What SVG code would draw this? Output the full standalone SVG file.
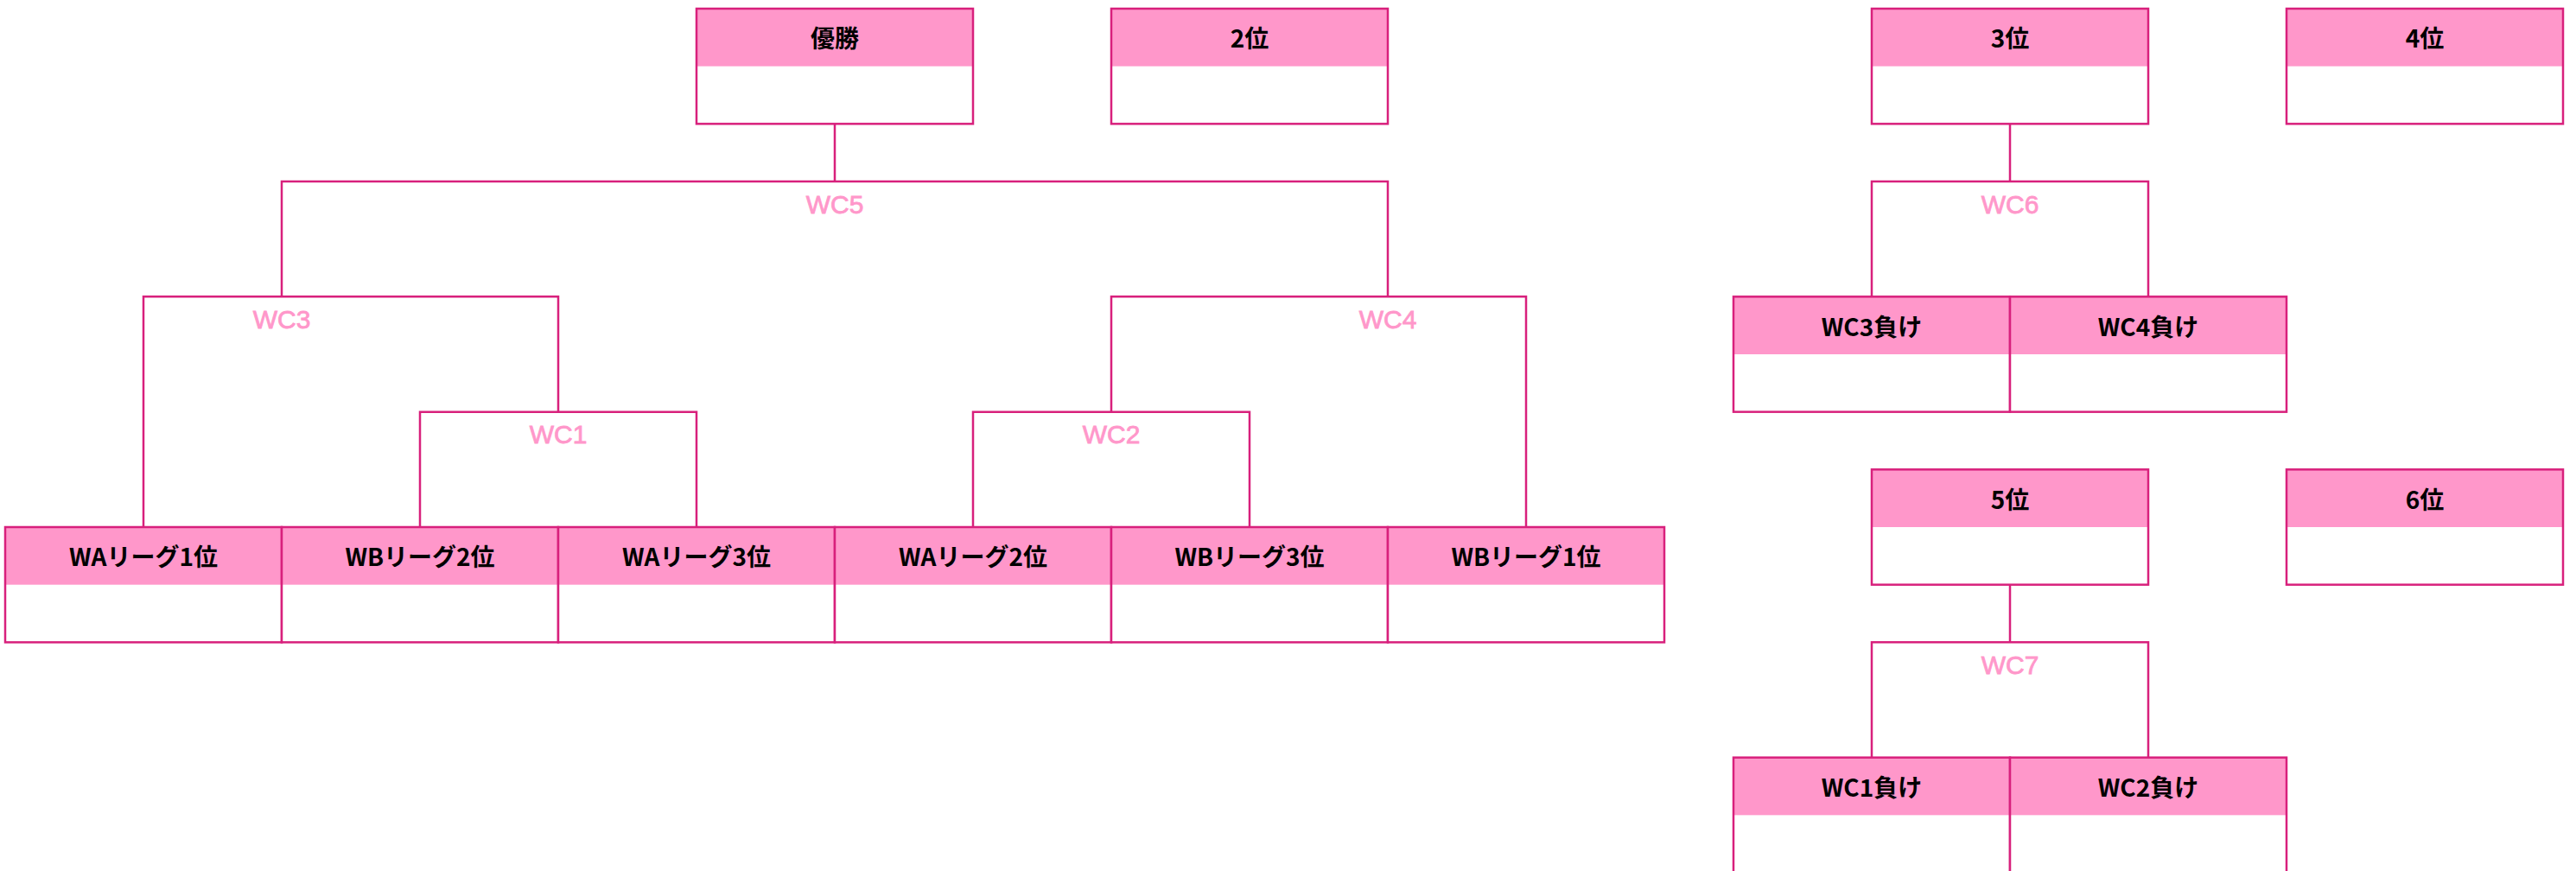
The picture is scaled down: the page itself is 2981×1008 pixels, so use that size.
<svg xmlns="http://www.w3.org/2000/svg" width="2981" height="1008" viewBox="0 0 2981 1008">
<style>
.hd{fill:#ff97ca}
.bd{fill:#ffffff}
.ol{fill:none;stroke:#d8207c;stroke-width:2.5}
.t{font-family:"Noto Sans CJK JP","Liberation Sans",sans-serif;font-weight:bold;font-size:28px;fill:#000;text-anchor:middle;dominant-baseline:central}
.cn{fill:none;stroke:#d8207c;stroke-width:2.5}
.lb{font-family:"Liberation Sans","Noto Sans CJK JP",sans-serif;font-size:30px;fill:#ff97ca;stroke:#ff97ca;stroke-width:0.8;text-anchor:middle}
</style>
<defs>
<g id="box">
<rect class="bd" x="0" y="0" width="320" height="133.33"/>
<rect class="hd" x="0" y="0" width="320" height="66.67"/>
<rect class="ol" x="0" y="0" width="320" height="133.33"/>
</g>
</defs>
<rect width="2981" height="1008" fill="#ffffff"/>
<g id="connectors">
<path class="cn" d="M966 143.33V210M326 343.33V210H1606V343.33"/>
<path class="cn" d="M166 610V343.33H646V476.67M486 610V476.67H806V610"/>
<path class="cn" d="M1286 476.67V343.33H1766V610M1126 610V476.67H1446V610"/>
<path class="cn" d="M2326 143.33V210M2166 343.33V210H2486V343.33"/>
<path class="cn" d="M2326 676.67V743.33M2166 876.67V743.33H2486V876.67"/>
<text class="lb" x="966" y="247">WC5</text>
<text class="lb" x="326" y="380">WC3</text>
<text class="lb" x="646" y="513.3">WC1</text>
<text class="lb" x="1606" y="380">WC4</text>
<text class="lb" x="1286" y="513.3">WC2</text>
<text class="lb" x="2326" y="247">WC6</text>
<text class="lb" x="2326" y="780.3">WC7</text>
</g>
<g id="n-yusho" transform="translate(806,10)"><use href="#box"/><text class="t" x="160" y="33.3">優勝</text></g>
<g id="n-2i" transform="translate(1286,10)"><use href="#box"/><text class="t" x="160" y="33.3">2位</text></g>
<g id="n-3i" transform="translate(2166,10)"><use href="#box"/><text class="t" x="160" y="33.3">3位</text></g>
<g id="n-4i" transform="translate(2646,10)"><use href="#box"/><text class="t" x="160" y="33.3">4位</text></g>
<g id="n-wc3l" transform="translate(2006,343.33)"><use href="#box"/><text class="t" x="160" y="33.3">WC3負け</text></g>
<g id="n-wc4l" transform="translate(2326,343.33)"><use href="#box"/><text class="t" x="160" y="33.3">WC4負け</text></g>
<g id="n-5i" transform="translate(2166,543.33)"><use href="#box"/><text class="t" x="160" y="33.3">5位</text></g>
<g id="n-6i" transform="translate(2646,543.33)"><use href="#box"/><text class="t" x="160" y="33.3">6位</text></g>
<g id="n-wc1l" transform="translate(2006,876.67)"><use href="#box"/><text class="t" x="160" y="33.3">WC1負け</text></g>
<g id="n-wc2l" transform="translate(2326,876.67)"><use href="#box"/><text class="t" x="160" y="33.3">WC2負け</text></g>
<g id="n-wa1" transform="translate(6,610)"><use href="#box"/><text class="t" x="160" y="33.3">WAリーグ1位</text></g>
<g id="n-wb2" transform="translate(326,610)"><use href="#box"/><text class="t" x="160" y="33.3">WBリーグ2位</text></g>
<g id="n-wa3" transform="translate(646,610)"><use href="#box"/><text class="t" x="160" y="33.3">WAリーグ3位</text></g>
<g id="n-wa2" transform="translate(966,610)"><use href="#box"/><text class="t" x="160" y="33.3">WAリーグ2位</text></g>
<g id="n-wb3" transform="translate(1286,610)"><use href="#box"/><text class="t" x="160" y="33.3">WBリーグ3位</text></g>
<g id="n-wb1" transform="translate(1606,610)"><use href="#box"/><text class="t" x="160" y="33.3">WBリーグ1位</text></g>
</svg>
